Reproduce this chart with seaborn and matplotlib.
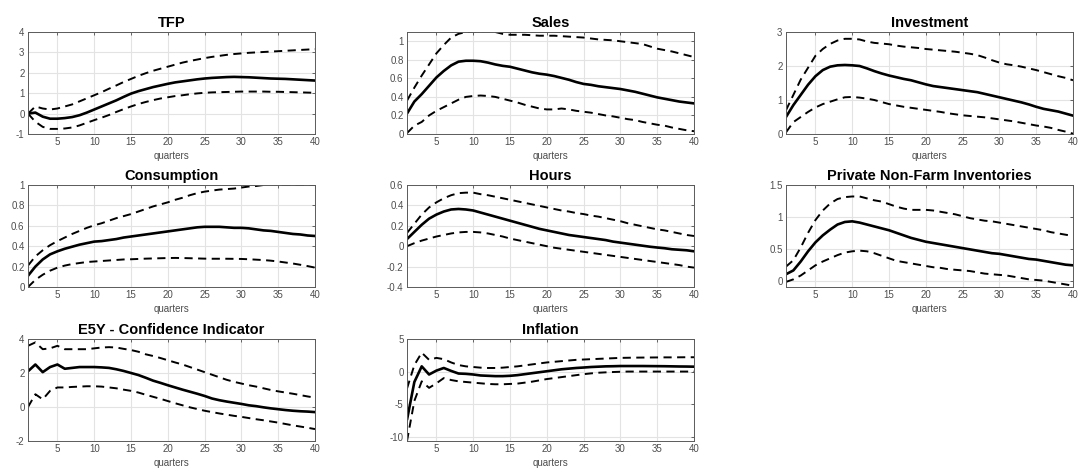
import numpy as np
import pandas as pd
import matplotlib
matplotlib.use("Agg")
import matplotlib.pyplot as plt
import seaborn as sns

quarters = list(range(1, 41))

tfp_mid = [0.0, 0.05, -0.15, -0.25, -0.25, -0.22, -0.17, -0.08, 0.05, 0.2,
           0.35, 0.5, 0.65, 0.82, 0.98, 1.1, 1.2, 1.3, 1.38, 1.46,
           1.53, 1.58, 1.63, 1.68, 1.72, 1.75, 1.77, 1.79, 1.8, 1.79,
           1.78, 1.76, 1.74, 1.72, 1.71, 1.7, 1.68, 1.66, 1.64, 1.62]
tfp_hi = [0.0, 0.35, 0.25, 0.2, 0.25, 0.35, 0.45, 0.6, 0.75, 0.9,
          1.05, 1.22, 1.38, 1.55, 1.7, 1.85, 1.98, 2.1, 2.2, 2.3,
          2.4, 2.5, 2.58, 2.65, 2.72, 2.78, 2.83, 2.88, 2.92, 2.95,
          2.98, 3.0, 3.02, 3.04, 3.06, 3.08, 3.1, 3.12, 3.14, 3.16]
tfp_lo = [0.0, -0.4, -0.65, -0.75, -0.75, -0.73, -0.68, -0.58, -0.45, -0.32,
          -0.2, -0.07, 0.08, 0.22, 0.35, 0.47, 0.57, 0.66, 0.74, 0.8,
          0.86, 0.9, 0.95, 0.99, 1.02, 1.04, 1.05, 1.06, 1.07, 1.08,
          1.08, 1.08, 1.08, 1.07, 1.07, 1.06, 1.05, 1.04, 1.03, 1.02]

sales_mid = [0.22, 0.35, 0.43, 0.52, 0.61, 0.68, 0.74, 0.78, 0.79, 0.79,
             0.785, 0.77, 0.75, 0.735, 0.725, 0.705, 0.685, 0.665, 0.65, 0.64,
             0.625, 0.605, 0.585, 0.56, 0.54, 0.53, 0.515, 0.505, 0.495, 0.485,
             0.47, 0.455, 0.435, 0.415, 0.395, 0.38, 0.365, 0.35, 0.34, 0.33]
sales_hi = [0.36, 0.5, 0.63, 0.75, 0.87, 0.96, 1.04, 1.08, 1.1, 1.1,
            1.105, 1.11, 1.1, 1.08, 1.07, 1.07, 1.07, 1.065, 1.06, 1.06,
            1.06, 1.055, 1.05, 1.045, 1.04, 1.03, 1.02, 1.015, 1.01, 1.0,
            0.99, 0.98, 0.97, 0.945, 0.92, 0.905, 0.89, 0.87, 0.85, 0.83]
sales_lo = [0.01, 0.09, 0.13, 0.2, 0.25, 0.29, 0.33, 0.37, 0.4, 0.41,
            0.415, 0.41, 0.4, 0.38, 0.36, 0.34, 0.315, 0.295, 0.275, 0.265,
            0.265, 0.275, 0.265, 0.25, 0.24, 0.23, 0.215, 0.2, 0.19, 0.175,
            0.16, 0.15, 0.13, 0.115, 0.1, 0.09, 0.07, 0.055, 0.04, 0.03]

inv_mid = [0.5, 0.85, 1.15, 1.45, 1.7, 1.88, 1.98, 2.02, 2.03, 2.02,
           2.0, 1.93, 1.85, 1.78, 1.72, 1.67, 1.62, 1.58, 1.52, 1.46,
           1.41, 1.38, 1.35, 1.32, 1.29, 1.26, 1.23, 1.18, 1.13, 1.08,
           1.03, 0.98, 0.93, 0.87, 0.8, 0.74, 0.7, 0.66, 0.6, 0.54]
inv_hi = [0.7, 1.15, 1.6, 1.95, 2.3, 2.5, 2.65, 2.75, 2.8, 2.8,
          2.78, 2.72, 2.68, 2.66, 2.64, 2.6, 2.57, 2.55, 2.53, 2.5,
          2.48, 2.46, 2.44, 2.42, 2.39, 2.36, 2.32, 2.25, 2.17, 2.1,
          2.05, 2.02, 1.98, 1.93, 1.88, 1.82, 1.76, 1.7, 1.65, 1.58]
inv_lo = [0.05, 0.35, 0.5, 0.65, 0.78, 0.88, 0.95, 1.02, 1.08, 1.09,
          1.07, 1.04, 1.0, 0.94, 0.88, 0.84, 0.8, 0.77, 0.74, 0.71,
          0.68, 0.65, 0.61, 0.58, 0.55, 0.53, 0.51, 0.49, 0.46, 0.43,
          0.4, 0.37, 0.33, 0.29, 0.25, 0.22, 0.18, 0.12, 0.07, 0.01]

cons_mid = [0.11, 0.2, 0.27, 0.32, 0.35, 0.375, 0.395, 0.415, 0.43, 0.445,
            0.45, 0.46, 0.47, 0.485, 0.495, 0.505, 0.515, 0.525, 0.535, 0.545,
            0.555, 0.565, 0.575, 0.585, 0.59, 0.59, 0.59, 0.585, 0.58, 0.58,
            0.575, 0.565, 0.555, 0.55, 0.54, 0.53, 0.52, 0.515, 0.505, 0.5]
cons_hi = [0.21, 0.3, 0.36, 0.41, 0.45, 0.485, 0.52, 0.55, 0.58, 0.605,
           0.625, 0.65, 0.675, 0.695, 0.715, 0.74, 0.765, 0.79, 0.81, 0.83,
           0.855, 0.875, 0.9, 0.92, 0.935, 0.945, 0.955, 0.96, 0.965, 0.975,
           0.985, 0.99, 1.0, 1.01, 1.005, 1.0, 1.0, 1.0, 1.0, 1.0]
cons_lo = [0.0, 0.07, 0.12, 0.16, 0.19, 0.21, 0.225, 0.235, 0.245, 0.25,
           0.255, 0.26, 0.265, 0.27, 0.272, 0.275, 0.278, 0.28, 0.282, 0.284,
           0.285, 0.284, 0.282, 0.28, 0.278, 0.277, 0.277, 0.277, 0.276, 0.275,
           0.272, 0.268, 0.264, 0.258, 0.25, 0.24, 0.23, 0.218, 0.205, 0.19]

hours_mid = [0.07, 0.14, 0.21, 0.27, 0.31, 0.34, 0.36, 0.365, 0.36, 0.35,
             0.33, 0.31, 0.29, 0.27, 0.25, 0.23, 0.21, 0.19, 0.17, 0.155,
             0.14, 0.125, 0.11, 0.1, 0.09, 0.08, 0.07, 0.06, 0.045, 0.035,
             0.025, 0.015, 0.005, -0.005, -0.013, -0.02, -0.03, -0.035, -0.04, -0.05]
hours_hi = [0.13, 0.22, 0.31, 0.38, 0.43, 0.47, 0.5, 0.52, 0.525, 0.525,
            0.51, 0.5, 0.485, 0.47, 0.455, 0.44, 0.425, 0.41, 0.395, 0.38,
            0.365, 0.35, 0.34, 0.325, 0.315, 0.3, 0.29, 0.275, 0.26, 0.245,
            0.225, 0.21, 0.195, 0.18, 0.165, 0.155, 0.14, 0.125, 0.11, 0.1]
hours_lo = [0.0, 0.03, 0.055, 0.075, 0.095, 0.11, 0.125, 0.135, 0.14, 0.14,
            0.135, 0.125, 0.11, 0.095, 0.075, 0.06, 0.045, 0.03, 0.015, 0.0,
            -0.015, -0.025, -0.035, -0.045, -0.055, -0.065, -0.075, -0.085, -0.095, -0.105,
            -0.115, -0.125, -0.135, -0.145, -0.155, -0.165, -0.175, -0.185, -0.2, -0.21]

stock_mid = [0.1, 0.16, 0.3, 0.46, 0.6, 0.71, 0.8, 0.88, 0.92, 0.93,
             0.91, 0.88, 0.85, 0.82, 0.79, 0.75, 0.71, 0.67, 0.64, 0.61,
             0.59, 0.57, 0.55, 0.53, 0.51, 0.49, 0.47, 0.45, 0.43, 0.42,
             0.4, 0.38, 0.36, 0.34, 0.33, 0.31, 0.29, 0.27, 0.25, 0.24]
stock_hi = [0.22, 0.32, 0.52, 0.75, 0.95, 1.1, 1.21, 1.28, 1.31, 1.32,
            1.32, 1.29, 1.26, 1.24, 1.2, 1.16, 1.13, 1.11, 1.11, 1.11,
            1.1, 1.08, 1.06, 1.04, 1.01, 0.98, 0.96, 0.94, 0.93, 0.91,
            0.89, 0.87, 0.85, 0.83, 0.81, 0.79, 0.76, 0.74, 0.72, 0.7]
stock_lo = [-0.02, 0.02, 0.08, 0.16, 0.24, 0.3, 0.35, 0.4, 0.44, 0.46,
            0.47, 0.46, 0.43, 0.39, 0.35, 0.31, 0.29, 0.27, 0.25, 0.23,
            0.21, 0.2, 0.18, 0.17, 0.16, 0.15, 0.13, 0.11, 0.1, 0.09,
            0.08, 0.06, 0.04, 0.02, 0.01, 0.0, -0.02, -0.04, -0.06, -0.08]

e5y_mid = [2.1, 2.5, 2.05, 2.35, 2.5, 2.25, 2.3, 2.35, 2.35, 2.35,
           2.33, 2.3, 2.22, 2.12, 2.0, 1.88, 1.72, 1.55, 1.42, 1.28,
           1.15, 1.02, 0.9, 0.78, 0.65, 0.5, 0.4, 0.32, 0.25, 0.18,
           0.1, 0.05, -0.02, -0.08, -0.13, -0.18, -0.22, -0.25, -0.27, -0.3]
e5y_hi = [3.6, 3.8, 3.4, 3.45, 3.6, 3.4, 3.4, 3.4, 3.4, 3.45,
          3.5, 3.52, 3.5, 3.42, 3.35, 3.25, 3.1, 3.0, 2.88, 2.75,
          2.62, 2.5, 2.35, 2.2, 2.05, 1.9, 1.75, 1.6, 1.48, 1.38,
          1.28, 1.2, 1.1, 1.0, 0.92, 0.85, 0.78, 0.7, 0.62, 0.55]
e5y_lo = [0.0, 0.75, 0.45, 0.95, 1.15, 1.15, 1.18, 1.2, 1.22, 1.22,
          1.2, 1.15, 1.1, 1.02, 0.95, 0.85, 0.72, 0.6, 0.48, 0.35,
          0.22, 0.1, -0.02, -0.12, -0.22, -0.3, -0.38, -0.45, -0.52, -0.58,
          -0.65, -0.72, -0.78, -0.85, -0.92, -1.0, -1.08, -1.15, -1.22, -1.3]

infl_mid = [-7.4, -1.6, 0.8, -0.45, 0.15, 0.55, 0.1, -0.3, -0.35, -0.45,
            -0.6, -0.65, -0.7, -0.7, -0.65, -0.55, -0.4, -0.25, -0.1, 0.05,
            0.2, 0.35, 0.45, 0.55, 0.62, 0.7, 0.75, 0.8, 0.82, 0.85,
            0.85, 0.85, 0.85, 0.84, 0.83, 0.82, 0.8, 0.78, 0.77, 0.75]
infl_hi = [-2.6, 1.0, 2.9, 1.8, 2.1, 1.9, 1.4, 1.0, 0.8, 0.7,
           0.6, 0.55, 0.55, 0.6, 0.7, 0.8, 0.95, 1.1, 1.25, 1.4,
           1.5, 1.6, 1.7, 1.8, 1.85, 1.9, 1.95, 2.0, 2.05, 2.1,
           2.12, 2.14, 2.15, 2.16, 2.17, 2.18, 2.18, 2.19, 2.2, 2.2]
infl_lo = [-10.66, -4.5, -1.5, -2.5, -1.8, -1.0, -1.3, -1.5, -1.6, -1.7,
           -1.8, -1.9, -1.95, -1.95, -1.9, -1.85, -1.7, -1.55, -1.35, -1.15,
           -1.0, -0.85, -0.7, -0.55, -0.4, -0.28, -0.18, -0.12, -0.07, -0.03,
           0.0, 0.0, 0.0, 0.0, 0.0, 0.0, 0.0, 0.0, 0.0, 0.0]

titles = ["TFP", "Sales", "Investment", "Consumption", "Hours",
          "Private Non-Farm Inventories", "E5Y - Confidence Indicator", "Inflation"]
series = [(tfp_mid, tfp_hi, tfp_lo), (sales_mid, sales_hi, sales_lo),
          (inv_mid, inv_hi, inv_lo), (cons_mid, cons_hi, cons_lo),
          (hours_mid, hours_hi, hours_lo), (stock_mid, stock_hi, stock_lo),
          (e5y_mid, e5y_hi, e5y_lo), (infl_mid, infl_hi, infl_lo)]
ylims = [(-1, 4), (0, 1.1), (0, 3), (0, 1), (-0.4, 0.6), (-0.1, 1.5), (-2, 4), (-10.66, 5)]
yticks = [[-1, 0, 1, 2, 3, 4], [0, 0.2, 0.4, 0.6, 0.8, 1], [0, 1, 2, 3],
          [0, 0.2, 0.4, 0.6, 0.8, 1], [-0.4, -0.2, 0, 0.2, 0.4, 0.6],
          [0, 0.5, 1, 1.5], [-2, 0, 2, 4], [-10, -5, 0, 5]]
xticks = [5, 10, 15, 20, 25, 30, 35, 40]

sns.set_theme(style="whitegrid")
plt.rcParams["font.family"] = ["Liberation Sans", "DejaVu Sans"]

W, H = 1083, 471
fig = plt.figure(figsize=(W / 100, H / 100), dpi=100)
fig.patch.set_facecolor("white")

col_left = [28, 407, 786]
row_top = [32, 185, 339]
ax_w, ax_h = 287, 102

tick_grey = "#4d4d4d"
band_style = (0, (4.2, 2.8))
for i, (title, (mid, hi, lo)) in enumerate(zip(titles, series)):
    r, c = divmod(i, 3)
    left = col_left[c] / W
    bottom = 1 - (row_top[r] + ax_h) / H
    ax = fig.add_axes([left, bottom, ax_w / W, ax_h / H])
    ax.set_facecolor("white")
    df = pd.DataFrame({"quarter": quarters, "mid": mid, "hi": hi, "lo": lo})
    sns.lineplot(data=df, x="quarter", y="hi", ax=ax, color="black",
                 linewidth=1.4, linestyle=band_style)
    sns.lineplot(data=df, x="quarter", y="lo", ax=ax, color="black",
                 linewidth=1.4, linestyle=band_style)
    sns.lineplot(data=df, x="quarter", y="mid", ax=ax, color="black",
                 linewidth=1.9)
    ax.set_xlim(1, 40)
    ax.set_ylim(*ylims[i])
    ax.set_xticks(xticks)
    ax.set_yticks(yticks[i])
    ax.set_yticklabels([f"{v:g}" for v in yticks[i]])
    ax.set_xlabel("quarters", fontsize=7, color=tick_grey, labelpad=2.5)
    ax.set_ylabel("")
    ax.set_title(title, fontsize=10.5, fontweight="bold", color="black", pad=3.5)
    ax.grid(True, color="#e3e3e3", linewidth=0.8)
    ax.tick_params(axis="both", which="both", direction="in", length=2.5,
                   width=0.6, colors=tick_grey, labelsize=7, pad=2.5,
                   top=True, right=True)
    for sp in ax.spines.values():
        sp.set_color("#5a5a5a")
        sp.set_linewidth(0.7)

fig.savefig("out.png", dpi=100, facecolor="white")
